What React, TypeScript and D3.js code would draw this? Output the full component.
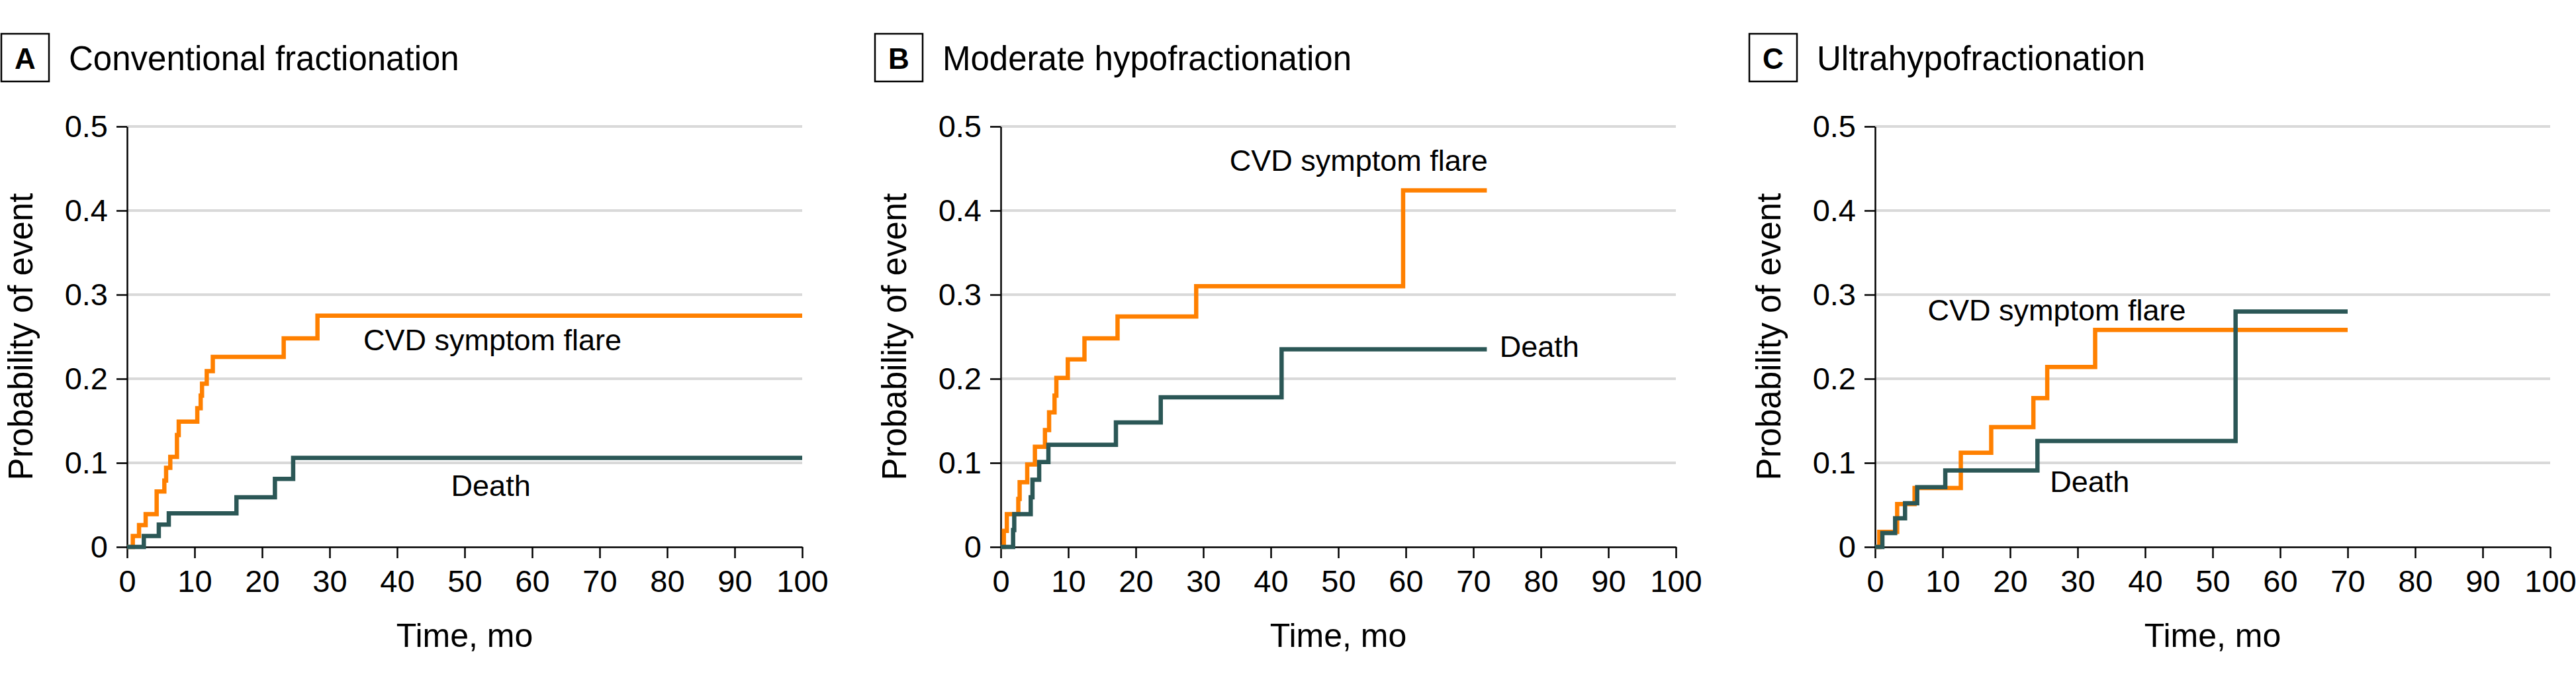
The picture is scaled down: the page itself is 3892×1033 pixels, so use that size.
import * as d3 from "d3";
import { useEffect, useRef } from "react";

// ---- data ----
const panelLetters = ["A", "B", "C"];
const panelTitles = ["Conventional fractionation", "Moderate hypofractionation", "Ultrahypofractionation"];
const seriesNames = ["CVD symptom flare", "Death"];

const xTicks = [0, 10, 20, 30, 40, 50, 60, 70, 80, 90, 100];
const yTicks = [0, 0.1, 0.2, 0.3, 0.4, 0.5];
const yTickLabels = ["0", "0.1", "0.2", "0.3", "0.4", "0.5"];

// A: conventional fractionation
const flareTimesA = [0.85, 1.77, 2.75, 4.38, 5.52, 5.78, 6.4, 7.39, 7.65, 10.4, 10.9, 11.1, 11.8, 12.7, 23.2, 28.2];
const flareProbsA = [0.013, 0.026, 0.039, 0.066, 0.079, 0.094, 0.107, 0.133, 0.149, 0.165, 0.18, 0.194, 0.209, 0.226, 0.248, 0.275];
const deathTimesA = [2.48, 4.7, 6.18, 16.2, 21.9, 24.6];
const deathProbsA = [0.013, 0.0265, 0.04, 0.059, 0.081, 0.106];
const followUpA = 100;

// B: moderate hypofractionation
const flareTimesB = [0.46, 0.9, 2.6, 2.8, 3.92, 5.06, 6.55, 7.16, 7.97, 8.24, 9.93, 12.4, 17.3, 28.95, 59.6];
const flareProbsB = [0.019, 0.039, 0.057, 0.077, 0.098, 0.119, 0.139, 0.16, 0.18, 0.201, 0.223, 0.248, 0.274, 0.31, 0.424];
const deathTimesB = [1.83, 2.0, 4.44, 4.7, 5.69, 7.06, 17.06, 23.7, 41.6];
const deathProbsB = [0.02, 0.039, 0.059, 0.08, 0.101, 0.1215, 0.148, 0.178, 0.235];
const followUpB = 72;

// C: ultrahypofractionation
const flareTimesC = [0.62, 3.27, 5.85, 12.7, 17.2, 23.45, 25.5, 32.6];
const flareProbsC = [0.018, 0.051, 0.07, 0.112, 0.1425, 0.177, 0.214, 0.258];
const deathTimesC = [1.08, 2.97, 4.44, 6.24, 10.4, 24.05, 53.4];
const deathProbsC = [0.0165, 0.034, 0.052, 0.071, 0.091, 0.126, 0.28];
const followUpC = 70;

const flareTimes = [flareTimesA, flareTimesB, flareTimesC];
const flareProbs = [flareProbsA, flareProbsB, flareProbsC];
const deathTimes = [deathTimesA, deathTimesB, deathTimesC];
const deathProbs = [deathProbsA, deathProbsB, deathProbsC];
const followUps = [followUpA, followUpB, followUpC];

// ---- layout ----
const width = 3892;
const height = 1033;
const font = "'Liberation Sans', Arial, sans-serif";
const orange = "#ff8000";
const teal = "#2b5756";
const panelLeft = [0, 1320, 2641];
const plotLeft = 192;
const plotWidth = 1020;
const plotTop = 191;
const plotBottom = 826;

// where the curve names sit, in data units (time, probability)
const flareLabelAt = [[35, 0.234], [33.9, 0.447], [7.8, 0.269]];
const deathLabelAt = [[48, 0.061], [73.9, 0.226], [25.9, 0.065]];

function steps(times: number[], probs: number[], end: number): [number, number][] {
    const pts: [number, number][] = [[0, 0]];
    times.forEach((t, j) => pts.push([t, probs[j]]));
    pts.push([end, probs[probs.length - 1]]);
    return pts;
}

function drawChart(svgEl: SVGSVGElement) {
    const svg = d3.select(svgEl);
    svg.selectAll("*").remove();

    panelLetters.forEach((letter, i) => {
        const left = panelLeft[i];
        const g = svg.append("g").attr("transform", `translate(${left},0)`);

        const x = d3.scaleLinear().domain([0, 100]).range([plotLeft, plotLeft + plotWidth]);
        const y = d3.scaleLinear().domain([0, 0.5]).range([plotBottom, plotTop]);

        // panel letter box and title
        g.append("rect")
            .attr("x", 2).attr("y", 51).attr("width", 72).attr("height", 72)
            .attr("fill", "none").attr("stroke", "#000").attr("stroke-width", 2.5);
        g.append("text")
            .attr("x", 38).attr("y", 104)
            .attr("text-anchor", "middle")
            .style("font-family", font).style("font-size", "44px").style("font-weight", "bold")
            .text(letter);
        g.append("text")
            .attr("x", 104).attr("y", 106)
            .style("font-family", font).style("font-size", "51px")
            .text(panelTitles[i]);

        // gridlines
        g.append("g").selectAll("line")
            .data(yTicks.filter(v => v > 0))
            .enter().append("line")
            .attr("x1", x(0)).attr("x2", x(100))
            .attr("y1", d => y(d)).attr("y2", d => y(d))
            .attr("stroke", "#d9d9d9").attr("stroke-width", 4);

        // axes
        const yAxis = g.append("g")
            .attr("transform", `translate(${x(0)},0)`)
            .call(d3.axisLeft(y).tickValues(yTicks).tickFormat((_d, j) => yTickLabels[j])
                .tickSize(16).tickSizeOuter(0).tickPadding(13));
        const xAxis = g.append("g")
            .attr("transform", `translate(0,${y(0)})`)
            .call(d3.axisBottom(x).tickValues(xTicks).tickFormat(d3.format("d"))
                .tickSize(17).tickSizeOuter(0).tickPadding(18));
        [yAxis, xAxis].forEach(a => {
            a.select(".domain").attr("stroke", "#000").attr("stroke-width", 2.5);
            a.selectAll(".tick line").attr("stroke", "#000").attr("stroke-width", 2.5);
            a.selectAll(".tick text")
                .attr("fill", "#000")
                .style("font-family", font).style("font-size", "47px");
        });

        // axis titles
        g.append("text")
            .attr("x", x(50)).attr("y", 977)
            .attr("text-anchor", "middle")
            .style("font-family", font).style("font-size", "50px")
            .text("Time, mo");
        g.append("text")
            .attr("transform", `translate(49,${(plotTop + plotBottom) / 2}) rotate(-90)`)
            .attr("text-anchor", "middle")
            .style("font-family", font).style("font-size", "51px")
            .text("Probability of event");

        // curves: death on top of flare
        const line = d3.line<[number, number]>()
            .x(d => x(d[0]))
            .y(d => y(d[1]))
            .curve(d3.curveStepAfter);
        g.append("path")
            .attr("d", line(steps(flareTimes[i], flareProbs[i], followUps[i])))
            .attr("fill", "none").attr("stroke", orange).attr("stroke-width", 6.5);
        g.append("path")
            .attr("d", line(steps(deathTimes[i], deathProbs[i], followUps[i])))
            .attr("fill", "none").attr("stroke", teal).attr("stroke-width", 6.5);

        // curve names
        g.append("text")
            .attr("x", x(flareLabelAt[i][0])).attr("y", y(flareLabelAt[i][1]))
            .style("font-family", font).style("font-size", "45px")
            .text(seriesNames[0]);
        g.append("text")
            .attr("x", x(deathLabelAt[i][0])).attr("y", y(deathLabelAt[i][1]))
            .style("font-family", font).style("font-size", "45px")
            .text(seriesNames[1]);
    });
}

export default function App() {
    const svgRef = useRef<SVGSVGElement>(null);
    useEffect(() => {
        document.body.style.margin = "0";
        if (svgRef.current) drawChart(svgRef.current);
    }, []);

    return (
        <svg ref={svgRef} width={width} height={height} style={{ display: "block", background: "#fff" }} />
    );
}
